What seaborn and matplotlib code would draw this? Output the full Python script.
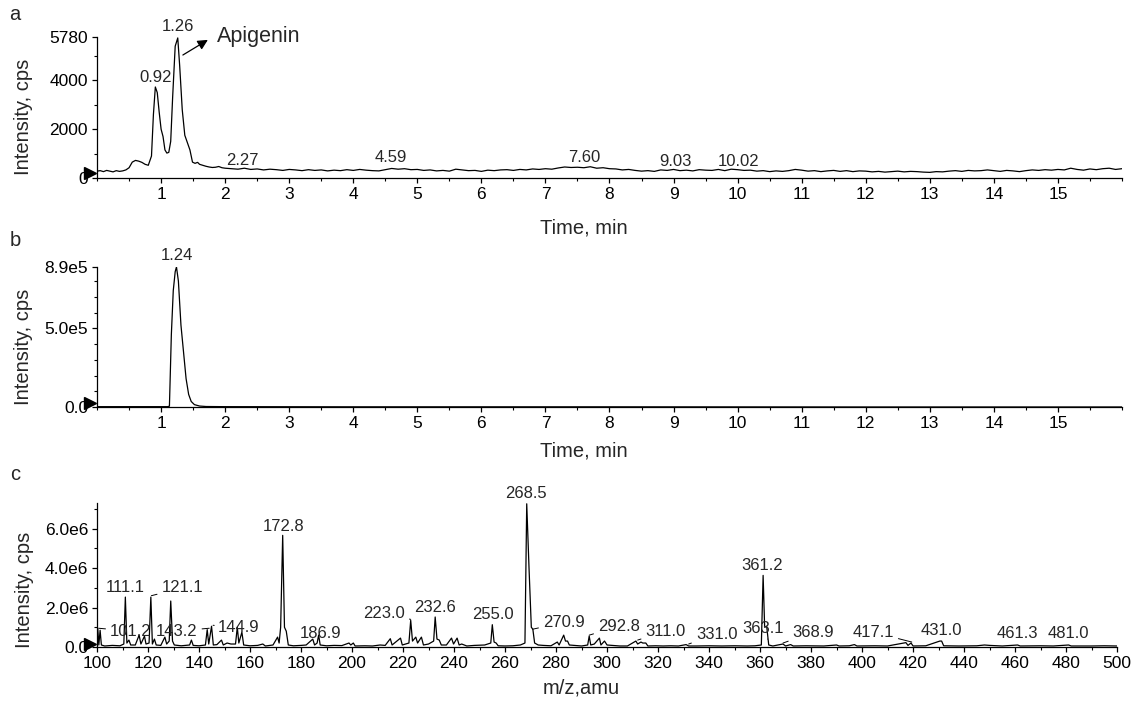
import matplotlib
matplotlib.use("Agg")
import matplotlib.pyplot as plt
from matplotlib.ticker import MultipleLocator
import seaborn as sns

sns.set_theme(style="ticks")
plt.rcParams["font.family"] = ["Liberation Sans", "DejaVu Sans"]

# ---------------- data ----------------
# (a) total ion chromatogram, intensity in cps
time_a = [0.0, 0.05, 0.1, 0.15, 0.2, 0.25, 0.3, 0.35, 0.4, 0.45, 0.5, 0.55, 0.6, 0.65, 0.7,
          0.75, 0.8, 0.85, 0.88, 0.91, 0.94, 0.97, 1.0, 1.03, 1.06, 1.09, 1.12, 1.15, 1.18,
          1.22, 1.26, 1.29, 1.33, 1.37, 1.41, 1.45, 1.49, 1.53, 1.57, 1.6, 1.65, 1.7, 1.75,
          1.8, 1.85, 1.9, 1.95, 2.0,
          2.1, 2.2, 2.3, 2.4, 2.5, 2.6, 2.7, 2.8, 2.9, 3.0, 3.1, 3.2, 3.3, 3.4, 3.5, 3.6, 3.7,
          3.8, 3.9, 4.0, 4.1, 4.2, 4.3, 4.4, 4.5, 4.6, 4.7, 4.8, 4.9, 5.0, 5.1, 5.2, 5.3, 5.4,
          5.5, 5.6, 5.7, 5.8, 5.9, 6.0, 6.1, 6.2, 6.3, 6.4, 6.5, 6.6, 6.7, 6.8, 6.9, 7.0, 7.1,
          7.2, 7.3, 7.4, 7.5, 7.6, 7.7, 7.8, 7.9, 8.0, 8.1, 8.2, 8.3, 8.4, 8.5, 8.6, 8.7, 8.8,
          8.9, 9.0, 9.1, 9.2, 9.3, 9.4, 9.5, 9.6, 9.7, 9.8, 9.9, 10.0, 10.1, 10.2, 10.3, 10.4,
          10.5, 10.6, 10.7, 10.8, 10.9, 11.0, 11.1, 11.2, 11.3, 11.4, 11.5, 11.6, 11.7, 11.8,
          11.9, 12.0, 12.1, 12.2, 12.3, 12.4, 12.5, 12.6, 12.7, 12.8, 12.9, 13.0, 13.1, 13.2,
          13.3, 13.4, 13.5, 13.6, 13.7, 13.8, 13.9, 14.0, 14.1, 14.2, 14.3, 14.4, 14.5, 14.6,
          14.7, 14.8, 14.9, 15.0, 15.1, 15.2, 15.3, 15.4, 15.5, 15.6, 15.7, 15.8, 15.9, 16.0]
intensity_a = [280, 300, 260, 310, 280, 250, 300, 270, 290, 330, 420, 650, 720, 690, 640,
               560, 520, 900, 2600, 3730, 3500, 2700, 2000, 1700, 1150, 1020, 1050, 1500, 3300,
               5400, 5740, 4600, 2800, 1750, 1450, 1150, 650, 600, 640, 560, 520, 480, 450,
               430, 440, 470, 420, 400,
               380, 360, 400, 350, 370, 330, 360, 340, 310, 350, 330, 300, 340, 310, 330, 290, 320,
               300, 340, 310, 350, 320, 300, 290, 340, 390, 360, 380, 340, 350, 310, 330, 290, 310,
               280, 360, 330, 300, 310, 270, 320, 300, 330, 340, 310, 350, 330, 370, 350, 380, 360,
               410, 450, 430, 440, 420, 460, 400, 420, 380, 370, 330, 350, 310, 280, 300, 270, 330,
               310, 350, 300, 320, 290, 340, 320, 310, 350, 300, 360, 340, 310, 320, 280, 300,
               260, 290, 270, 300, 350, 320, 280, 300, 260, 290, 310, 270, 300, 260,
               290, 280, 250, 270, 240, 260, 280, 250, 270, 260, 240, 230, 260, 250,
               280, 300, 270, 310, 290, 300, 330, 300, 270, 310, 290, 260, 300, 330,
               310, 340, 320, 350, 330, 400, 350, 320, 370, 340, 380, 400, 350, 380]
peak_labels_a = ["0.92", "1.26", "2.27", "4.59", "7.60", "9.03", "10.02"]

# (b) extracted ion chromatogram, intensity in cps
time_b = [0.0, 0.5, 1.0, 1.1, 1.13, 1.16, 1.19, 1.22, 1.24, 1.27, 1.31, 1.35, 1.39, 1.43,
          1.47, 1.52, 1.6, 1.7, 2.0, 4.0, 8.0, 12.0, 16.0]
intensity_b = [2e3, 2e3, 2e3, 2e3, 5e3, 4.6e5, 7.4e5, 8.6e5, 8.9e5, 8.0e5, 5.2e5, 3.5e5,
               1.8e5, 0.8e5, 3.5e4, 1.5e4, 6e3, 3e3, 2e3, 1e3, 1e3, 0, 0]
peak_labels_b = ["1.24"]

# (c) MS/MS spectrum, intensity in cps (x1e6)
mz_c = [100.0, 100.3, 100.7, 101.2, 101.7, 103, 106, 109, 110.5, 111.1, 111.7, 112.5, 113.2,
        115, 116.5, 117.2, 118.6, 119.2, 120.4, 121.1, 121.7, 122.5, 123.2, 125, 126.6, 127.3,
        128.3, 128.9, 129.6, 130.3, 133, 136.3, 137, 137.7, 140, 142.5, 143.2, 143.8, 144.9,
        145.6, 147, 148.8, 149.5, 151, 152.5, 154.3, 155.0, 155.6, 156.8, 157.5, 160, 163, 165,
        166, 169, 170.8, 171.4, 172.0, 172.8, 173.5, 174.2, 175.0, 177, 180, 182, 184.6, 185.3,
        186.3, 186.9, 187.5, 190, 193, 196, 198.8, 199.5, 200.5, 201.2, 205, 208, 211, 213,
        215, 215.7, 219, 219.7, 222.3, 223.0, 223.7, 225.0, 225.7, 227.2, 228, 230, 232.0,
        232.6, 233.3, 234.2, 235, 237, 239, 239.8, 241.2, 242, 243, 245, 248, 252, 254.4,
        255.0, 255.7, 256.5, 257.3, 260, 263, 266, 267.8, 268.5, 269.4, 270.3, 270.9, 271.6,
        273, 275, 278, 280.5, 281.2, 283, 283.7, 284.5, 285.2, 287, 290, 292.4, 293.0, 293.6,
        295, 297.0, 297.6, 299, 300, 302, 305, 308, 311.3, 312, 313.3, 314, 315.2, 316, 319,
        322, 325, 328, 331, 332, 335, 340, 345, 350, 355, 358, 360.5, 361.2, 361.8, 362.6,
        363.4, 365, 367, 369, 370, 372, 373, 378, 385, 390, 391, 395, 397, 398, 405, 410,
        417.2, 418, 419.2, 420, 425, 430.5, 431.2, 432, 438, 445, 448, 450, 455, 461, 462,
        470, 475, 481, 482, 490, 495, 500]
intensity_c = [0.05, 0.9, 0.1, 0.85, 0.1, 0.05, 0.08, 0.06, 0.15, 2.53, 0.2, 0.35, 0.1,
               0.1, 0.6, 0.15, 0.55, 0.15, 0.2, 2.53, 0.15, 0.4, 0.1, 0.08, 0.5, 0.15,
               0.3, 2.33, 0.3, 0.1, 0.06, 0.1, 0.35, 0.08, 0.06, 0.1, 0.88, 0.15, 1.05,
               0.1, 0.12, 0.35, 0.1, 0.2, 0.15, 0.15, 1.0, 0.2, 0.75, 0.1, 0.06, 0.08, 0.15,
               0.05, 0.1, 0.5, 0.2, 1.0, 5.66, 1.0, 0.8, 0.1, 0.06, 0.08, 0.1, 0.4, 0.1,
               0.2, 0.6, 0.1, 0.06, 0.08, 0.07, 0.2, 0.1, 0.2, 0.05, 0.06, 0.05, 0.1, 0.08,
               0.42, 0.1, 0.45, 0.1, 0.2, 1.35, 0.3, 0.5, 0.2, 0.5, 0.1, 0.15, 0.3,
               1.52, 0.4, 0.35, 0.1, 0.1, 0.45, 0.15, 0.45, 0.1, 0.15, 0.05, 0.08, 0.1, 0.2,
               1.13, 0.25, 0.2, 0.06, 0.05, 0.06, 0.1, 0.2, 7.26, 4.0, 1.0, 0.9, 0.2,
               0.1, 0.08, 0.06, 0.25, 0.1, 0.6, 0.3, 0.3, 0.1, 0.08, 0.05, 0.1, 0.55, 0.1,
               0.15, 0.45, 0.1, 0.3, 0.1, 0.08, 0.05, 0.05, 0.3, 0.15, 0.25, 0.2, 0.2, 0.05, 0.06,
               0.05, 0.06, 0.05, 0.12, 0.05, 0.05, 0.06, 0.05, 0.06, 0.05, 0.06, 0.1, 3.63, 1.0, 1.05,
               0.1, 0.05, 0.1, 0.15, 0.05, 0.12, 0.05, 0.06, 0.05, 0.1, 0.05, 0.06, 0.12, 0.05, 0.06, 0.05,
               0.22, 0.08, 0.2, 0.05, 0.06, 0.3, 0.3, 0.06, 0.05, 0.06, 0.1, 0.08, 0.05, 0.1, 0.05,
               0.06, 0.05, 0.1, 0.05, 0.05, 0.06, 0.05]
intensity_c = [v * 1e6 for v in intensity_c]
peak_labels_c = ["101.2", "111.1", "121.1", "143.2", "144.9", "172.8", "186.9", "223.0",
                 "232.6", "255.0", "268.5", "270.9", "292.8", "311.0", "331.0", "361.2",
                 "363.1", "368.9", "417.1", "431.0", "461.3", "481.0"]

# ---------------- figure ----------------
fig = plt.figure(figsize=(11.35, 7.04), dpi=100)
ax_a = fig.add_axes([0.0855, 0.7472, 0.903, 0.2003])
ax_b = fig.add_axes([0.0855, 0.4219, 0.903, 0.1989])
ax_c = fig.add_axes([0.0855, 0.0810, 0.8987, 0.2045])

LW = 0.9
TICK_FS = 12.5
LABEL_FS = 14.5
PEAK_FS = 12


def style_axis(ax):
    sns.despine(ax=ax)
    for sp in ("left", "bottom"):
        ax.spines[sp].set_linewidth(LW)
        ax.spines[sp].set_color("black")
    ax.tick_params(which="major", length=3.5, width=0.9, color="black",
                   labelsize=TICK_FS, pad=3, labelcolor="black")
    ax.tick_params(which="minor", length=2, width=0.8, color="black")
    ax.grid(False)


def start_marker(ax, y):
    # black triangle at the start of the trace, just left of the y axis
    ax.plot([-0.007], [y], marker=">", ms=8, color="black", clip_on=False,
            transform=ax.get_yaxis_transform())


# ---- (a) ----
sns.lineplot(x=time_a, y=intensity_a, ax=ax_a, color="black", lw=0.9, estimator=None, sort=False)
ax_a.set_xlim(0, 16)
ax_a.set_ylim(0, 5780)
ax_a.set_xticks(range(1, 16))
ax_a.xaxis.set_minor_locator(MultipleLocator(0.5))
ax_a.set_yticks([0, 2000, 4000, 5780], ["0", "2000", "4000", "5780"])
ax_a.yaxis.set_minor_locator(MultipleLocator(1000))
style_axis(ax_a)
start_marker(ax_a, 200)
ax_a.set_xlabel("Time, min", fontsize=LABEL_FS)
ax_a.set_ylabel("Intensity, cps", fontsize=LABEL_FS)
ax_a.xaxis.set_label_coords(0.475, -0.29)
ax_a.yaxis.set_label_coords(-0.062, 0.43)
label_y_a = [4100, 6190, 700, 820, 820, 660, 660]
for txt, yy in zip(peak_labels_a, label_y_a):
    ax_a.text(float(txt), yy, txt, ha="center", va="center", fontsize=PEAK_FS, clip_on=False)
ax_a.annotate("", xy=(1.73, 5660), xytext=(1.34, 5040),
              arrowprops=dict(arrowstyle="-|>", color="black", lw=0.9, mutation_scale=15,
                              shrinkA=0, shrinkB=0), annotation_clip=False)
ax_a.text(1.87, 5800, "Apigenin", ha="left", va="center", fontsize=15.5, clip_on=False)

# ---- (b) ----
sns.lineplot(x=time_b, y=intensity_b, ax=ax_b, color="black", lw=0.9, estimator=None, sort=False)
ax_b.set_xlim(0, 16)
ax_b.set_ylim(0, 8.9e5)
ax_b.set_xticks(range(1, 16))
ax_b.xaxis.set_minor_locator(MultipleLocator(0.5))
ax_b.set_yticks([0, 5.0e5, 8.9e5], ["0.0", "5.0e5", "8.9e5"])
ax_b.yaxis.set_minor_locator(MultipleLocator(1e5))
style_axis(ax_b)
start_marker(ax_b, 0.25e5)
ax_b.set_xlabel("Time, min", fontsize=LABEL_FS)
ax_b.set_ylabel("Intensity, cps", fontsize=LABEL_FS)
ax_b.xaxis.set_label_coords(0.475, -0.25)
ax_b.yaxis.set_label_coords(-0.062, 0.43)
ax_b.text(1.24, 9.6e5, peak_labels_b[0], ha="center", va="center", fontsize=PEAK_FS, clip_on=False)

# ---- (c) ----
sns.lineplot(x=mz_c, y=intensity_c, ax=ax_c, color="black", lw=0.9, estimator=None, sort=False)
ax_c.set_xlim(100, 500)
ax_c.set_ylim(0, 7.3e6)
ax_c.set_xticks(range(100, 501, 20))
ax_c.xaxis.set_minor_locator(MultipleLocator(10))
ax_c.set_yticks([0, 2e6, 4e6, 6e6], ["0.0", "2.0e6", "4.0e6", "6.0e6"])
ax_c.yaxis.set_minor_locator(MultipleLocator(1e6))
style_axis(ax_c)
start_marker(ax_c, 0.15e6)
ax_c.set_xlabel("m/z,amu", fontsize=LABEL_FS)
ax_c.set_ylabel("Intensity, cps", fontsize=LABEL_FS)
ax_c.xaxis.set_label_coords(0.475, -0.22)
ax_c.yaxis.set_label_coords(-0.062, 0.40)

# label placement: text position (m/z, 1e6 cps) and optional leader-line target
label_pos_c = {
    "101.2": ((113.3, 0.8), (100.6, 0.95)),
    "111.1": ((111.0, 3.0), None),
    "121.1": ((133.5, 3.0), (121.3, 2.6)),
    "143.2": ((131.2, 0.8), (144.0, 0.95)),
    "144.9": ((155.4, 1.0), (145.5, 1.1)),
    "172.8": ((173.0, 6.1), None),
    "186.9": ((187.5, 0.7), None),
    "223.0": ((212.5, 1.7), (223.0, 1.4)),
    "232.6": ((232.6, 2.0), None),
    "255.0": ((255.1, 1.65), None),
    "268.5": ((268.2, 7.8), None),
    "270.9": ((283.1, 1.25), (270.8, 0.9)),
    "292.8": ((304.7, 1.05), (293.0, 0.6)),
    "311.0": ((323.0, 0.8), (312.0, 0.35)),
    "331.0": ((343.0, 0.65), (332.0, 0.15)),
    "361.2": ((360.8, 4.15), None),
    "363.1": ((361.2, 0.95), (363.0, 0.4)),
    "368.9": ((381.0, 0.75), (369.0, 0.2)),
    "417.1": ((404.3, 0.75), (419.5, 0.25)),
    "431.0": ((431.0, 0.85), None),
    "461.3": ((461.0, 0.7), None),
    "481.0": ((480.8, 0.7), None),
}
for txt in peak_labels_c:
    (tx, ty), target = label_pos_c[txt]
    if target is None:
        ax_c.text(tx, ty * 1e6, txt, ha="center", va="center", fontsize=PEAK_FS, clip_on=False)
    else:
        ax_c.annotate(txt, xy=(target[0], target[1] * 1e6), xytext=(tx, ty * 1e6),
                      ha="center", va="center", fontsize=PEAK_FS, annotation_clip=False,
                      arrowprops=dict(arrowstyle="-", color="black", lw=0.7,
                                      shrinkA=1, shrinkB=0))

# panel letters
fig.text(15 / 1135, 1 - 15 / 704, "a", fontsize=14.5, ha="center", va="center")
fig.text(15 / 1135, 1 - 241 / 704, "b", fontsize=14.5, ha="center", va="center")
fig.text(15 / 1135, 1 - 475 / 704, "c", fontsize=14.5, ha="center", va="center")

fig.savefig("out.png", dpi=100, facecolor="white")
